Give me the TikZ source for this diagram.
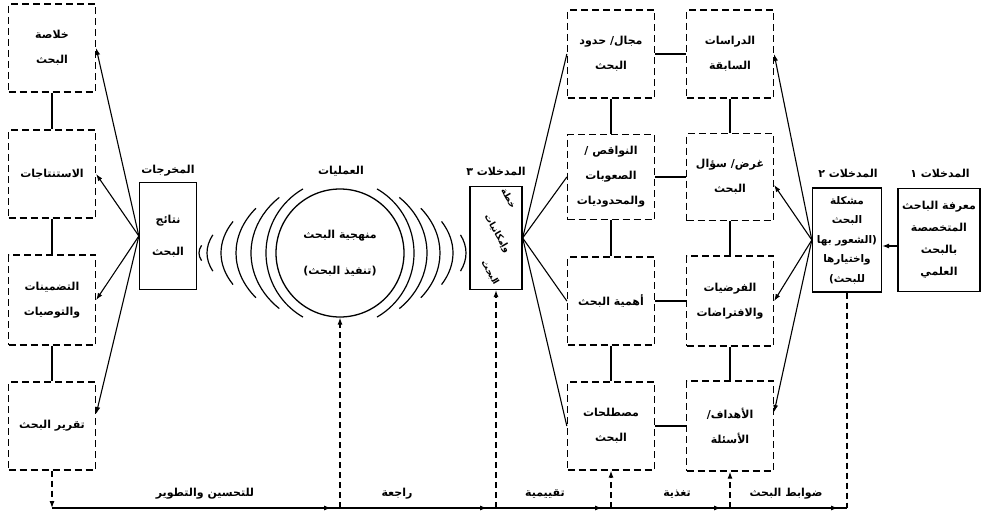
\documentclass[tikz,border=0pt]{standalone}
\usepackage{fontspec}
\newfontfamily\arabicfont[Script=Arabic]{DejaVu Sans}
\TeXXeTstate=1
\usetikzlibrary{arrows.meta}
\newcommand{\arl}[1]{\beginR#1\endR}

\begin{document}
\begin{tikzpicture}[x=1pt,y=-1pt,
        >={Latex[length=7pt,width=5pt]},
        every node/.style={font=\arabicfont\bfseries\fontsize{11}{25}\selectfont,align=center},
        dash node/.style={draw,line width=1.3pt,dash pattern=on 7pt off 4pt,minimum width=87pt,minimum height=88pt,inner sep=2pt},
        solid node/.style={draw,line width=1.3pt,inner sep=1pt},
        head/.style={font=\arabicfont\bfseries\fontsize{11}{13}\selectfont},
        turned/.style={rotate=-60,inner sep=0pt,font=\arabicfont\bfseries\fontsize{9}{10}\selectfont},
        link/.style={line width=1.1pt},
        feed/.style={line width=1.1pt,dash pattern=on 6pt off 4pt},
        wave/.style={line width=1.2pt}]

        \useasboundingbox (0,0) rectangle (982,519);

        % Define vertices
        \node[dash node] (sum) at (52,48) {\arl{خلاصة}\\\arl{البحث}};
        \node[dash node] (conc) at (52,174) {\arl{الاستنتاجات}};
        \node[dash node,minimum height=90pt] (impl) at (52,300) {\arl{التضمينات}\\\arl{والتوصيات}};
        \node[dash node] (rep) at (52,426) {\arl{تقرير البحث}};

        \node[dash node] (scope) at (611,54) {\arl{مجال/ حدود}\\\arl{البحث}};
        \node[dash node,minimum height=85pt] (limit) at (611,177) {\arl{النواقص /}\\\arl{الصعوبات}\\\arl{والمحدوديات}};
        \node[dash node] (imp) at (611,301) {\arl{أهمية البحث}};
        \node[dash node] (term) at (611,426) {\arl{مصطلحات}\\\arl{البحث}};

        \node[dash node] (prev) at (730,54) {\arl{الدراسات}\\\arl{السابقة}};
        \node[dash node,minimum height=87pt] (purp) at (730,177) {\arl{غرض/ سؤال}\\\arl{البحث}};
        \node[dash node,minimum height=90pt] (hyp) at (730,301) {\arl{الفرضيات}\\\arl{والافتراضات}};
        \node[dash node,minimum height=90pt] (goal) at (730,426) {\arl{الأهداف/}\\\arl{الأسئلة}};

        \node[solid node,minimum width=57pt,minimum height=107pt,font=\arabicfont\bfseries\fontsize{11}{32}\selectfont] (out) at (168,236) {\arl{نتائج}\\\arl{البحث}};
        \node[draw,circle,line width=1.3pt,minimum size=128pt,inner sep=0pt,font=\arabicfont\bfseries\fontsize{11}{36}\selectfont] (meth) at (340,253) {\arl{منهجية البحث}\\\arl{(تنفيذ البحث)}};
        \node[solid node,minimum width=52pt,minimum height=103pt] (plan) at (496,238) {};
        \node[turned] (plana) at (509,198) {\arl{خطة}};
        \node[turned] (planb) at (497,234) {\arl{وإمكانيات}};
        \node[turned] (planc) at (490,273) {\arl{البحث}};
        \node[solid node,minimum width=69pt,minimum height=104pt,font=\arabicfont\bfseries\fontsize{10.5}{19.5}\selectfont] (prob) at (847,240) {\arl{مشكلة}\\\arl{البحث}\\\arl{(الشعور بها}\\\arl{واختيارها}\\\arl{للبحث)}};
        \node[solid node,minimum width=82pt,minimum height=103pt,font=\arabicfont\bfseries\fontsize{11}{22}\selectfont] (know) at (939,240) {\arl{معرفة الباحث}\\\arl{المتخصصة}\\\arl{بالبحث}\\\arl{العلمي}};

        \node[head] (outlbl) at (168,171) {\arl{المخرجات}};
        \node[head] (proclbl) at (341,171) {\arl{العمليات}};
        \node[head] (in3) at (496,171) {\arl{المدخلات ٣}};
        \node[head] (in2) at (848,173) {\arl{المدخلات ٢}};
        \node[head] (in1) at (940,173) {\arl{المدخلات ١}};

        \node[head] (lbla) at (205,494) {\arl{للتحسين والتطوير}};
        \node[head] (lblb) at (397,494) {\arl{راجعة}};
        \node[head] (lblc) at (545,494) {\arl{تقييمية}};
        \node[head] (lbld) at (677,494) {\arl{تغذية}};
        \node[head] (lble) at (786,494) {\arl{ضوابط البحث}};

        \coordinate (j0) at (52,508);
        \coordinate (j1) at (340,508);
        \coordinate (j2) at (496,508);
        \coordinate (j3) at (611,508);
        \coordinate (j4) at (730,508);
        \coordinate (j5) at (847,508);

        % Waves round the process
        \foreach \rx/\ry/\p in {74/74/60,89/76/47,104/76/36,119/72/26,133/62/17,141/40/11}
            \draw[wave] ({340+\rx*cos(180-\p)},{253+\ry*sin(180-\p)}) arc[start angle=180-\p,end angle=180+\p,x radius=\rx,y radius=\ry];
        \foreach \rx/\ry/\p in {74/74/60,87/76/47,100/76/36,113/72/26,126/62/17}
            \draw[wave] ({340+\rx*cos(\p)},{253-\ry*sin(\p)}) arc[start angle=-\p,end angle=\p,x radius=\rx,y radius=\ry];

        % Draw edges
        \path[link]
            (sum) edge (conc)
            (conc) edge (impl)
            (impl) edge (rep)
            (scope) edge (limit)
            (limit) edge (imp)
            (imp) edge (term)
            (prev) edge (purp)
            (purp) edge (hyp)
            (hyp) edge (goal)
            (scope) edge (prev)
            (limit) edge (purp)
            (imp) edge (hyp)
            (term) edge (goal)
            (out.west) edge[->] (sum.east)
            (out.west) edge[->] (conc.east)
            (out.west) edge[->] (impl.east)
            (out.west) edge[->] ([yshift=12pt]rep.east)
            (plan.east) edge (scope.west)
            (plan.east) edge (limit.west)
            (plan.east) edge (imp.west)
            (plan.east) edge (term.west)
            (prob.west) edge[->] (prev.east)
            (prob.west) edge[->] ([yshift=-8pt]purp.east)
            (prob.west) edge[->] (hyp.east)
            (prob.west) edge[->] ([yshift=14pt]goal.east)
            ([yshift=-6pt]know.west) edge[->] ([yshift=-6pt]prob.east);

        % Feedback
        \draw[feed,->] (rep) -- (j0);
        \draw[feed,->] (j1) -- (meth);
        \draw[feed,->] (j2) -- (plan);
        \draw[feed,->] (j3) -- (term);
        \draw[feed,->] (j4) -- (goal);
        \draw[feed] (prob) -- (j5);
        \draw[link] (j0) -- (j5);
        \foreach \a/\b in {j0/j1,j1/j2,j2/j3,j3/j4,j4/j5}
            \draw[link,->] (\a) -- ([xshift=-9pt]\b);

        \end{tikzpicture}
\end{document}
